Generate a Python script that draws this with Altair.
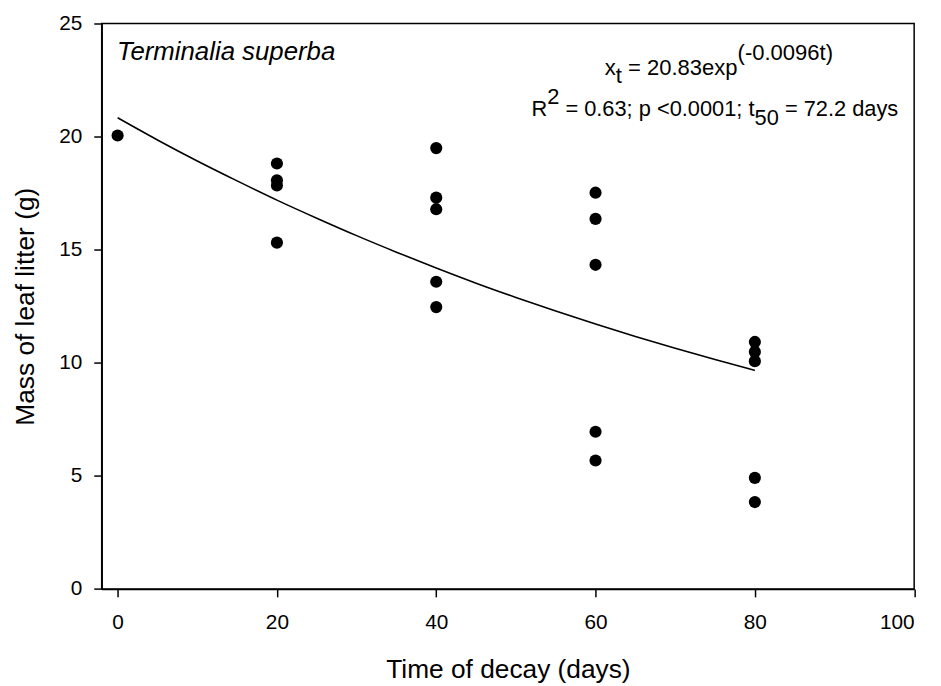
import altair as alt
import pandas as pd

# ---------------- data ----------------
days = [0, 20, 20, 20, 20, 40, 40, 40, 40, 40,
        60, 60, 60, 60, 60, 80, 80, 80, 80, 80]
mass = [20.05, 18.81, 18.07, 17.84, 15.31, 19.49, 17.30, 16.79, 13.58, 12.46,
        17.52, 16.36, 14.33, 6.95, 5.68, 10.92, 10.48, 10.07, 4.91, 3.84]

fit_days = [0, 5, 10, 15, 20, 25, 30, 35, 40, 45, 50, 55, 60, 65, 70, 75, 80]
fit_mass = [20.83, 19.85, 18.92, 18.04, 17.19, 16.39, 15.62, 14.89, 14.19,
            13.52, 12.89, 12.29, 11.71, 11.16, 10.64, 10.14, 9.66]

x_ticks = [0, 20, 40, 60, 80, 100]
y_ticks = [0, 5, 10, 15, 20, 25]

species = "Terminalia superba"
eq_line1 = [("x", "base"), ("t", "sub"), (" = 20.83exp", "base"), ("(-0.0096t)", "sup")]
eq_line2 = [("R", "base"), ("2", "sup"), (" = 0.63; p <0.0001; t", "base"),
            ("50", "sub"), (" = 72.2 days", "base")]

# ---------------- layout ----------------
FONT = "Liberation Sans"
W, H = 819.5, 570.3
OX, OY = 102.5, 20.7  # page position of plot origin (body margin 8)

pts = pd.DataFrame({"days": days, "mass": mass})
fit = pd.DataFrame({"days": fit_days, "mass": fit_mass})

xs = alt.Scale(domain=[-2, 100], nice=False, zero=False)
ys = alt.Scale(domain=[0, 25], nice=False, zero=False)

x_axis = alt.Axis(values=x_ticks, title="Time of decay (days)", grid=False,
                  labelFontSize=21, labelBaseline="alphabetic", labelPadding=31.5,
                  titleFontSize=26.5, titleFontWeight="normal", titleBaseline="alphabetic",
                  titleX=W / 2, titleY=89, titleAlign="center")
y_axis = alt.Axis(values=y_ticks, title="Mass of leaf litter (g)", grid=False,
                  labelFontSize=21, labelPadding=12,
                  titleFontSize=26.5, titleFontWeight="normal", titleBaseline="alphabetic",
                  titleX=33.3 - OX, titleY=H / 2, titleAlign="center", titleAngle=270)

points = alt.Chart(pts).mark_circle(size=150, color="black", opacity=1).encode(
    x=alt.X("days:Q", scale=xs, axis=x_axis),
    y=alt.Y("mass:Q", scale=ys, axis=y_axis),
)
curve = alt.Chart(fit).mark_line(color="black", strokeWidth=1.6, interpolate="monotone").encode(
    x=alt.X("days:Q", scale=xs),
    y=alt.Y("mass:Q", scale=ys),
)

# Arial / Liberation Sans advance widths (per 1000 em)
ADV = {" ": 278, "=": 584, ".": 278, ";": 278, "<": 584, "p": 556, "t": 278, "x": 500,
       "e": 556, "R": 722, "d": 556, "a": 556, "y": 500, "s": 500, "(": 333, ")": 333,
       "-": 333}
for ch in "0123456789":
    ADV[ch] = 556


def text_width(s, size):
    return sum(ADV.get(c, 556) for c in s) * size / 1000.0


def piece_layers(pieces, x_start, baseline, size, sup_shift, sub_shift):
    layers = []
    x = x_start
    for txt, kind in pieces:
        yb = baseline + {"base": 0, "sup": -sup_shift, "sub": sub_shift}[kind]
        body = txt.lstrip(" ")
        lead = text_width(txt[: len(txt) - len(body)], size)  # Vega trims leading blanks
        layers.append(
            alt.Chart(pd.DataFrame({"t": [body]})).mark_text(
                align="left", baseline="alphabetic", font=FONT, fontSize=size, color="black"
            ).encode(x=alt.value(x + lead - OX), y=alt.value(yb - OY), text="t:N")
        )
        x += text_width(txt, size)
    return layers


eq_layers = piece_layers(eq_line1, 610, 72.7, 22.2, 15.5, 8.3) + \
    piece_layers(eq_line2, 536, 113.5, 22.0, 11.5, 10.0)

title_txt = alt.Chart(pd.DataFrame({"t": [species]})).mark_text(
    align="left", baseline="alphabetic", font=FONT, fontSize=26, fontStyle="italic", color="black"
).encode(x=alt.value(118 - OX), y=alt.value(57.3 - OY), text="t:N")

chart = alt.layer(curve, points, title_txt, *eq_layers).properties(
    width=W, height=H,
    autosize=alt.AutoSizeParams(type="none"),
    padding={"left": OX - 8, "top": OY - 8, "right": 19, "bottom": 678 - (OY - 8) - H},
).configure(font=FONT).configure_view(
    stroke="black", strokeWidth=1.5
).configure_axis(
    domainColor="black", domainWidth=1.5, tickColor="black", tickWidth=1.5, tickSize=8,
    labelColor="black", titleColor="black", labelFont=FONT, titleFont=FONT,
)

chart.save("out.html", embed_options={"renderer": "svg", "actions": False})
